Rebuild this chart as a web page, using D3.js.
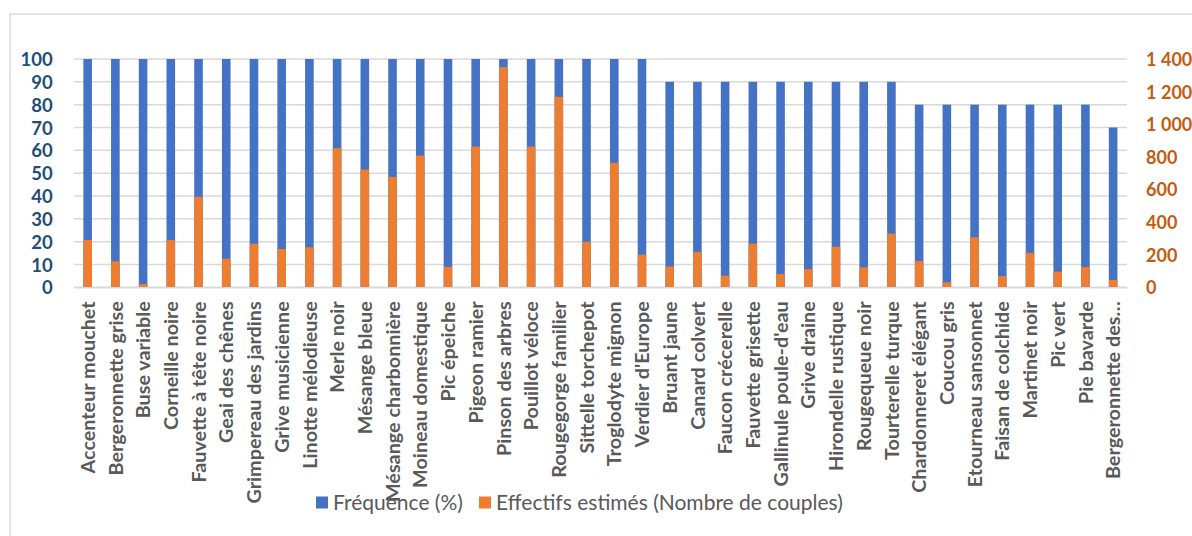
<!DOCTYPE html>
<html><head><meta charset="utf-8">
<script src="https://cdn.jsdelivr.net/npm/d3@7"></script>
<style>body{margin:0;background:#fff}svg{display:block}</style>
</head><body><svg id="c" width="1192" height="536"></svg>
<script>
const categories = ["Accenteur mouchet","Bergeronnette grise","Buse variable","Corneille noire","Fauvette à tête noire","Geai des chênes","Grimpereau des jardins","Grive musicienne","Linotte mélodieuse","Merle noir","Mésange bleue","Mésange charbonnière","Moineau domestique","Pic épeiche","Pigeon ramier","Pinson des arbres","Pouillot véloce","Rougegorge familier","Sittelle torchepot","Troglodyte mignon","Verdier d'Europe","Bruant jaune","Canard colvert","Faucon crécerelle","Fauvette grisette","Gallinule poule-d'eau","Grive draine","Hirondelle rustique","Rougequeue noir","Tourterelle turque","Chardonneret élégant","Coucou gris","Etourneau sansonnet","Faisan de colchide","Martinet noir","Pic vert","Pie bavarde","Bergeronnette des…"];
const frequence = [100,100,100,100,100,100,100,100,100,100,100,100,100,100,100,100,100,100,100,100,100,90,90,90,90,90,90,90,90,90,80,80,80,80,80,80,80,70];
const effectifs = [290,160,20,290,555,175,268,235,245,853,722,677,808,125,863,1350,863,1168,280,763,200,127,217,71,268,82,112,249,123,329,161,31,307,69,211,96,125,45];
const leftTicks = [0,10,20,30,40,50,60,70,80,90,100];
const rightTicks = [0,200,400,600,800,1000,1200,1400];
const seriesNames = ["Fréquence (%)","Effectifs estimés (Nombre de couples)"];
const colors = ["#4472C4","#ED7D31"];

const svg = d3.select("#c");
const FONT = "Lato, sans-serif";
const m = {left:73.8, right:1127, top:59, bottom:287.3};

svg.append("rect").attr("x",10).attr("y",14).attr("width",1200).attr("height",540)
  .attr("fill","none").attr("stroke","#d9d9d9").attr("stroke-width",1.5);

const x = d3.scaleBand().domain(categories).range([m.left,m.right]).paddingInner(0.69).paddingOuter(0.345);
const yL = d3.scaleLinear().domain([0,100]).range([m.bottom,m.top]);
const yR = d3.scaleLinear().domain([0,1400]).range([m.bottom,m.top]);
const fr = d3.formatLocale({decimal:",",thousands:"\u202f",grouping:[3],currency:["","€"]}).format(",d");

svg.append("g").selectAll("line").data(leftTicks).join("line")
  .attr("x1",m.left).attr("x2",m.right).attr("y1",d=>yL(d)).attr("y2",d=>yL(d))
  .attr("stroke","#d9d9d9").attr("stroke-width",1.5);

const gL = svg.append("g").attr("transform",`translate(${m.left},0)`)
  .call(d3.axisLeft(yL).tickValues(leftTicks).tickSize(0).tickPadding(21));
gL.select(".domain").remove();
gL.selectAll("text").attr("font-family",FONT).attr("font-size",18.5).attr("font-weight",700).attr("fill","#1F4E79").attr("dy","0.36em");

const gR = svg.append("g").attr("transform",`translate(${m.right},0)`)
  .call(d3.axisRight(yR).tickValues(rightTicks).tickSize(0).tickPadding(19).tickFormat(fr));
gR.select(".domain").remove();
gR.selectAll("text").attr("font-family",FONT).attr("font-size",18).attr("font-weight",700).attr("fill","#C55A11").attr("dy","0.36em");

svg.append("g").selectAll("rect").data(categories).join("rect")
  .attr("x",d=>x(d)).attr("width",x.bandwidth())
  .attr("y",(d,i)=>yL(frequence[i])).attr("height",(d,i)=>yL(0)-yL(frequence[i]))
  .attr("fill",colors[0]);
svg.append("g").selectAll("rect").data(categories).join("rect")
  .attr("x",d=>x(d)).attr("width",x.bandwidth())
  .attr("y",(d,i)=>yR(effectifs[i])).attr("height",(d,i)=>yR(0)-yR(effectifs[i]))
  .attr("fill",colors[1]);

const gX = svg.append("g").attr("transform",`translate(0,${m.bottom})`)
  .call(d3.axisBottom(x).tickSize(0).tickSizeOuter(0));
gX.select(".domain").attr("stroke","#d9d9d9").attr("stroke-width",1.5);
gX.selectAll("text").attr("font-family",FONT).attr("font-size",19.8).attr("font-weight",700).attr("fill","#595959")
  .attr("transform","rotate(-90)").attr("text-anchor","end").attr("x",-14).attr("y",0).attr("dy","0.36em");

const lg = svg.append("g");
const items = [{x:316},{x:479}];
seriesNames.forEach((n,i)=>{
  lg.append("rect").attr("x",items[i].x).attr("y",496.5).attr("width",12).attr("height",12).attr("fill",colors[i]);
  lg.append("text").attr("x",items[i].x+17).attr("y",510).attr("font-family",FONT).attr("font-size",21).attr("fill","#595959").text(n);
});
</script></body></html>
